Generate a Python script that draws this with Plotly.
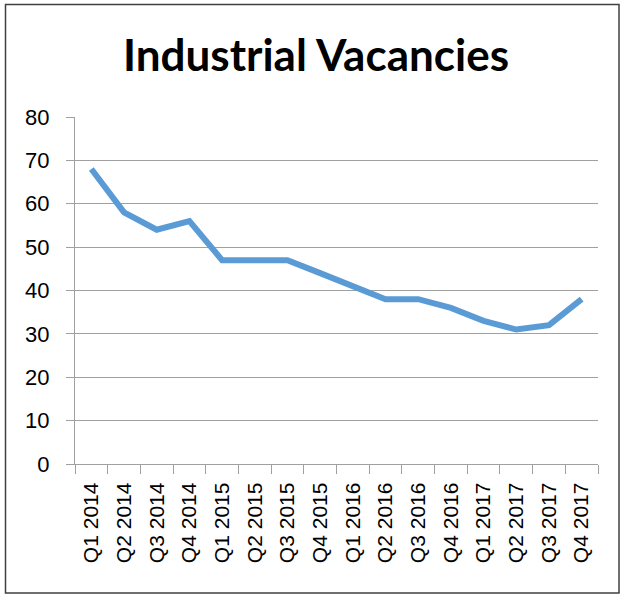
import plotly.graph_objects as go

quarters = ["Q1 2014", "Q2 2014", "Q3 2014", "Q4 2014",
            "Q1 2015", "Q2 2015", "Q3 2015", "Q4 2015",
            "Q1 2016", "Q2 2016", "Q3 2016", "Q4 2016",
            "Q1 2017", "Q2 2017", "Q3 2017", "Q4 2017"]
vacancies = [68, 58, 54, 56, 47, 47, 47, 44, 41, 38, 38, 36, 33, 31, 32, 38]
y_ticks = [0, 10, 20, 30, 40, 50, 60, 70, 80]

W, H = 624, 597
L, R, T, B = 75, 26, 117, 133
pw, ph = W - L - R, H - T - B

fig = go.Figure()
fig.add_trace(go.Scatter(
    x=quarters, y=vacancies, mode="lines",
    line=dict(color="#5B9BD5", width=6),
    hoverinfo="x+y", showlegend=False,
))

def px_x(x):
    return (x - L) / pw

def px_y(y):
    return 1 - (y - T) / ph

fig.add_shape(type="rect", xref="paper", yref="paper",
              x0=px_x(5.5), x1=px_x(619), y0=px_y(593), y1=px_y(4.5),
              line=dict(color="#404040", width=1.5), fillcolor="rgba(0,0,0,0)",
              layer="below")

fig.update_layout(
    width=W, height=H,
    margin=dict(l=L, r=R, t=T, b=B),
    paper_bgcolor="white", plot_bgcolor="white",
    title=dict(text="<b>Industrial Vacancies</b>", x=316 / W, xanchor="center",
               y=1 - 56 / H, yanchor="middle",
               font=dict(family="Lato, Open Sans, sans-serif", size=44, color="black")),
    xaxis=dict(
        type="category", categoryorder="array", categoryarray=quarters,
        range=[-0.5, len(quarters) - 0.5],
        tickangle=-90, tickson="boundaries", ticks="outside", ticklen=9,
        tickcolor="#A0A0A0", tickwidth=1.3,
        showline=True, linecolor="#A0A0A0", linewidth=1.3,
        showgrid=False, zeroline=False,
        tickfont=dict(family="Liberation Sans, Arial, sans-serif", size=21, color="black"),
        ticklabelstandoff=9,
    ),
    yaxis=dict(
        range=[0, 80], tickvals=y_ticks, ticktext=[str(v) for v in y_ticks],
        ticks="outside", ticklen=8, tickcolor="#A0A0A0", tickwidth=1.3,
        showline=True, linecolor="#A0A0A0", linewidth=1.3,
        showgrid=True, gridcolor="#A0A0A0", gridwidth=1.3, zeroline=False,
        tickfont=dict(family="Liberation Sans, Arial, sans-serif", size=22, color="black"),
        ticklabelstandoff=12,
    ),
)

fig.write_html("out.html", config={"displayModeBar": False},
               post_script="document.body.style.margin='0';")
